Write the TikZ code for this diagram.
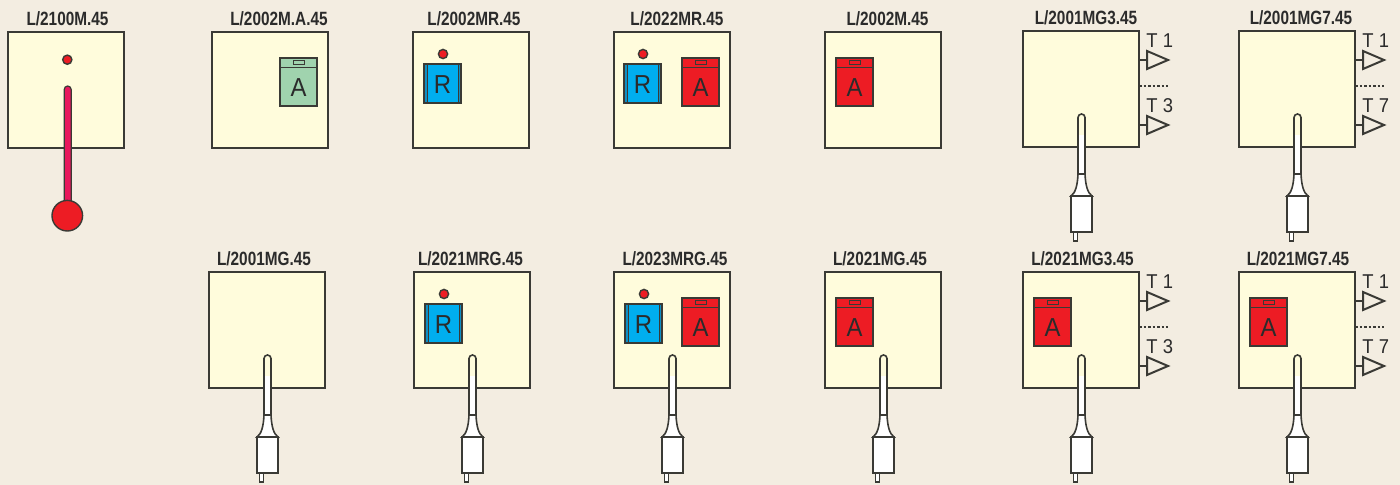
\documentclass[tikz,border=0pt]{standalone}
\usepackage{fontspec}
\usetikzlibrary{calc,positioning,shapes.geometric}
\setmainfont{Liberation Sans}
\newfontfamily\tagfont{Liberation Sans}[FakeStretch=0.8]
\newfontfamily\letterfont{Liberation Sans}[FakeStretch=0.92]
\definecolor{backdrop}{HTML}{F3EDE1}
\definecolor{panelfill}{HTML}{FFFCDC}
\definecolor{edgegrey}{HTML}{3A3A35}
\definecolor{inkgrey}{HTML}{2B2B2B}
\definecolor{alarmred}{HTML}{ED1C24}
\definecolor{alarmgreen}{HTML}{A0D3AE}
\definecolor{relayblue}{HTML}{00AEEF}
\definecolor{stripeblue}{HTML}{0E8FC4}
\definecolor{tubered}{HTML}{E8175D}
\tikzset{
  edge/.style={draw=edgegrey, line width=0.7pt},
  panel/.style={edge, fill=panelfill, anchor=north west, inner sep=0pt, outer sep=0pt, minimum size=58pt},
  tag/.style={font=\tagfont\bfseries\fontsize{9.6}{10}\selectfont, text=inkgrey, inner sep=0pt},
  letter/.style={font=\letterfont\fontsize{13}{14}\selectfont, text=inkgrey, inner sep=0pt},
  tlabel/.style={font=\letterfont\fontsize{10}{11}\selectfont, text=inkgrey, anchor=west, inner sep=0pt},
  lamp/.style={circle, edge, fill=alarmred, inner sep=0pt, minimum size=4.6pt},
  slot/.style={edge, line width=0.5pt, inner sep=0pt, minimum width=5.5pt, minimum height=2.4pt},
  alarmbox/.style={edge, inner sep=0pt, outer sep=0pt, minimum width=18.5pt, minimum height=24pt},
  relaybox/.style={edge, fill=relayblue, inner sep=0pt, outer sep=0pt, minimum width=18.5pt, minimum height=19.2pt},
  tri/.style={isosceles triangle, isosceles triangle stretches, edge, line width=1pt, anchor=west,
    shape border rotate=0, inner sep=0pt, outer sep=0pt, minimum width=9pt, minimum height=10.5pt},
  pics/alarm/.style={code={
    \node[alarmbox, fill=#1] (-body) at (18.5,24) {};
    \node[slot, fill=#1] (-slot) at (18.5,4.5) {};
    \draw[edge, line width=0.8pt] (-body.west |- 0,9.5) -- (-body.east |- 0,9.5);
    \node[letter] (-char) at (18.5,30) {A};
  }},
  pics/relay/.style={code={
    \node[lamp] (-lamp) at (19,-10) {};
    \node[relaybox] (-body) at (18.5,19.5) {};
    \fill[stripeblue] (0,0) rectangle (3,39) (34,0) rectangle (37,39);
    \draw[edge, line width=0.5pt] (3,0) -- (3,39) (34,0) -- (34,39);
    \draw[edge] (0,0) rectangle (37,39);
    \node[letter] (-char) at (18.5,21) {R};
  }},
  pics/probe/.style={code={
    \fill[white] (-3.5,27) -- (-3.5,-29.5) arc (180:360:3.5) -- (3.5,27) -- cycle;
    \fill[panelfill] (-3.5,-12) -- (-3.5,-29.5) arc (180:360:3.5) -- (3.5,-12) -- cycle;
    \draw[edge, line width=0.8pt] (-3.5,27) -- (-3.5,-29.5) arc (180:360:3.5) -- (3.5,27);
    \draw[edge, fill=white, line width=0.8pt] (-3.5,27) .. controls (-4,38) and (-6,46) .. (-10.5,49)
      -- (10.5,49) .. controls (6,46) and (4,38) .. (3.5,27) -- cycle;
    \draw[edge, fill=white, line width=0.6pt] (-8.2,85) rectangle (-4.2,94);
    \draw[edge, fill=white, line width=0.8pt] (-10.5,49) rectangle (10.5,85);
  }},
  pics/taps/.style={code={
    \node[tlabel] (-one) at (7,10) {T 1};
    \node[tri] (-first) at (8,29) {};
    \coordinate (-firstend) at (0,29);
    \draw[edge, line width=0.9pt] (-firstend) -- (-first.west);
    \coordinate (-dotsa) at (0,55);
    \coordinate (-dotsb) at (29,55);
    \draw[edgegrey, line width=1.1pt, dash pattern=on 1.25pt off 1pt] (-dotsa) -- (-dotsb);
    \node[tlabel] (-last) at (7,75) {T #1};
    \node[tri] (-second) at (8,94) {};
    \coordinate (-secondend) at (0,94);
    \draw[edge, line width=0.9pt] (-secondend) -- (-second.west);
  }},
}
\begin{document}
\begin{tikzpicture}[x=0.5pt, y=-0.5pt]
\useasboundingbox (0,0) rectangle (1400,485);
\fill[backdrop] (0,0) rectangle (1400,485);
%
\foreach \pname/\px/\py/\lx/\ly/\ltext in {
  p1/8/32/67.5/19/2100M.45, p2/212/32/279/19/2002M.A.45, p3/413/32/474/19/2002MR.45,
  p4/614/32/677/19/2022MR.45, p5/825/32/887.5/19/2002M.45, p6/1023/31/1086/18/2001MG3.45,
  p7/1239/31/1301/18/2001MG7.45, q2/209/272/264/259/2001MG.45, q3/414/272/470.5/259/2021MRG.45,
  q4/614/272/675/259/2023MRG.45, q5/825/272/880/259/2021MG.45, q6/1023/272/1082.5/259/2021MG3.45,
  q7/1239/272/1298/259/2021MG7.45}
  {
  \node[panel] (\pname) at (\px,\py) {};
  \node[tag] (\pname-tag) at (\lx,\ly) {L/\ltext};
  }
%
\node[lamp] (lamp1) at (67.3,59.7) {};
\fill[tubered] (64.2,205) -- (64.2,89.5) arc (180:360:3.5) -- (71.2,205) -- cycle;
\draw[edge, line width=0.6pt] (64.2,205) -- (64.2,89.5) arc (180:360:3.5) -- (71.2,205);
\node[lamp, minimum size=15.3pt] (bulb1) at (67.3,215.7) {};
%
\pic (a2) at ($(p2.north west)+(68,26)$) {alarm=alarmgreen};
\pic (r3) at ($(p3.north west)+(11,32)$) {relay};
\pic (r4) at ($(p4.north west)+(10,32)$) {relay};
\pic (a4) at ($(p4.north west)+(68,26)$) {alarm=alarmred};
\pic (a5) at ($(p5.north west)+(11,26)$) {alarm=alarmred};
\pic (r13) at ($(q3.north west)+(11,32)$) {relay};
\pic (r14) at ($(q4.north west)+(11,32)$) {relay};
\pic (a14) at ($(q4.north west)+(68,26)$) {alarm=alarmred};
\pic (a15) at ($(q5.north west)+(11,26)$) {alarm=alarmred};
\pic (a16) at ($(q6.north west)+(11,26)$) {alarm=alarmred};
\pic (a17) at ($(q7.north west)+(11,26)$) {alarm=alarmred};
%
\foreach \pname in {p6,p7,q2,q3,q4,q5,q6,q7}
  \pic (\pname-probe) at ($(\pname.south)+(0.5,0)$) {probe};
%
\pic (t6) at (p6.north east) {taps=3};
\pic (t7) at (p7.north east) {taps=7};
\pic (t16) at (q6.north east) {taps=3};
\pic (t17) at (q7.north east) {taps=7};
%
\end{tikzpicture}
\end{document}
